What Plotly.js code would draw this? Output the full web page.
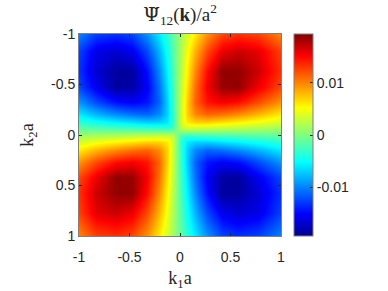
<!DOCTYPE html>
<html>
<head>
<meta charset="utf-8">
<script src="https://cdn.plot.ly/plotly-3.0.1.min.js"></script>
<style>html,body{margin:0;padding:0;background:#fff;}#chart{width:388px;height:291px;}</style>
</head>
<body>
<div id="chart"></div>
<script>
// grid positions (k1 a and k2 a)
const k1 = [-1, -0.83, -0.63, -0.48, -0.33, -0.21, -0.13, -0.07, -0.03, 0.01, 0.07, 0.15, 0.27, 0.42, 0.57, 0.77, 1.0];
const k2 = [-1, -0.83, -0.63, -0.48, -0.33, -0.21, -0.13, -0.07, -0.03, 0.01, 0.07, 0.15, 0.27, 0.42, 0.57, 0.77, 1.0];
// Psi12 / a^2 values, rows follow k2, columns follow k1
const psi = [
 [-0.0100,-0.0126,-0.0133,-0.0124,-0.0094,-0.0060,-0.0035,-0.0014,0,0.0014,0.0035,0.0060,0.0094,0.0124,0.0133,0.0126,0.0100],
 [-0.0126,-0.0160,-0.0168,-0.0157,-0.0123,-0.0081,-0.0047,-0.0019,0,0.0019,0.0047,0.0081,0.0123,0.0157,0.0168,0.0160,0.0126],
 [-0.0133,-0.0168,-0.0188,-0.0188,-0.0147,-0.0098,-0.0057,-0.0023,0,0.0023,0.0057,0.0098,0.0147,0.0188,0.0188,0.0168,0.0133],
 [-0.0124,-0.0157,-0.0188,-0.0185,-0.0154,-0.0108,-0.0064,-0.0027,0,0.0027,0.0064,0.0108,0.0154,0.0185,0.0188,0.0157,0.0124],
 [-0.0094,-0.0123,-0.0147,-0.0154,-0.0144,-0.0113,-0.0071,-0.0030,0,0.0030,0.0071,0.0113,0.0144,0.0154,0.0147,0.0123,0.0094],
 [-0.0060,-0.0081,-0.0098,-0.0108,-0.0113,-0.0098,-0.0070,-0.0032,0,0.0032,0.0070,0.0098,0.0113,0.0108,0.0098,0.0081,0.0060],
 [-0.0035,-0.0047,-0.0057,-0.0064,-0.0071,-0.0070,-0.0061,-0.0034,0,0.0034,0.0061,0.0070,0.0071,0.0064,0.0057,0.0047,0.0035],
 [-0.0014,-0.0019,-0.0023,-0.0027,-0.0030,-0.0032,-0.0034,-0.0026,0,0.0026,0.0034,0.0032,0.0030,0.0027,0.0023,0.0019,0.0014],
 [0,0,0,0,0,0,0,0,0,0,0,0,0,0,0,0,0],
 [0.0014,0.0019,0.0023,0.0027,0.0030,0.0032,0.0034,0.0026,0,-0.0026,-0.0034,-0.0032,-0.0030,-0.0027,-0.0023,-0.0019,-0.0014],
 [0.0035,0.0047,0.0057,0.0064,0.0071,0.0070,0.0061,0.0034,0,-0.0034,-0.0061,-0.0070,-0.0071,-0.0064,-0.0057,-0.0047,-0.0035],
 [0.0060,0.0081,0.0098,0.0108,0.0113,0.0098,0.0070,0.0032,0,-0.0032,-0.0070,-0.0098,-0.0113,-0.0108,-0.0098,-0.0081,-0.0060],
 [0.0094,0.0123,0.0147,0.0154,0.0144,0.0113,0.0071,0.0030,0,-0.0030,-0.0071,-0.0113,-0.0144,-0.0154,-0.0147,-0.0123,-0.0094],
 [0.0124,0.0157,0.0188,0.0185,0.0154,0.0108,0.0064,0.0027,0,-0.0027,-0.0064,-0.0108,-0.0154,-0.0185,-0.0188,-0.0157,-0.0124],
 [0.0133,0.0168,0.0188,0.0188,0.0147,0.0098,0.0057,0.0023,0,-0.0023,-0.0057,-0.0098,-0.0147,-0.0188,-0.0188,-0.0168,-0.0133],
 [0.0126,0.0160,0.0168,0.0157,0.0123,0.0081,0.0047,0.0019,0,-0.0019,-0.0047,-0.0081,-0.0123,-0.0157,-0.0168,-0.0160,-0.0126],
 [0.0100,0.0126,0.0133,0.0124,0.0094,0.0060,0.0035,0.0014,0,-0.0014,-0.0035,-0.0060,-0.0094,-0.0124,-0.0133,-0.0126,-0.0100]
];
const axisTicks = [-1, -0.5, 0, 0.5, 1];
const axisTickText = ['-1', '-0.5', '0', '0.5', '1'];
const cbTicks = [-0.01, 0, 0.01];
const cbTickText = ['-0.01', '0', '0.01'];
const cRange = [-0.0194, 0.0194];

const jet = [
  [0, 'rgb(0,0,143)'], [0.11, 'rgb(0,0,255)'], [0.365, 'rgb(0,255,255)'],
  [0.5, 'rgb(128,255,128)'], [0.635, 'rgb(255,255,0)'], [0.89, 'rgb(255,0,0)'], [1, 'rgb(128,0,0)']
];
const tickFont = {family: 'Liberation Sans, Arial, sans-serif', size: 14, color: '#262626'};
const serif = {family: 'Liberation Serif, Times New Roman, serif', size: 18, color: '#262626'};
const titleFont = {family: 'Liberation Serif, Times New Roman, serif', size: 19, color: '#262626'};

const trace = {
  type: 'heatmap', x: k1, y: k2, z: psi, zsmooth: 'best',
  colorscale: jet, zmin: cRange[0], zmax: cRange[1],
  colorbar: {
    x: 1.064, xanchor: 'left', xref: 'paper', y: 0.5, yanchor: 'middle', len: 1, lenmode: 'fraction',
    thickness: 19, thicknessmode: 'pixels', outlinewidth: 1, outlinecolor: '#7f7f7f',
    tickmode: 'array', tickvals: cbTicks, ticktext: cbTickText,
    ticks: 'inside', ticklen: 3, tickcolor: '#262626', tickfont: tickFont, xpad: 0, ypad: 0
  }
};
const axBase = {
  range: [-1, 1], tickmode: 'array', tickvals: axisTicks, ticktext: axisTickText,
  ticks: 'inside', ticklen: 3, tickcolor: '#262626', showline: true, linecolor: '#7f7f7f', linewidth: 1,
  mirror: 'ticks', showgrid: false, zeroline: false, tickfont: tickFont
};
const layout = {
  width: 388, height: 291,
  margin: {l: 79, r: 107, t: 34, b: 55},
  paper_bgcolor: '#fff', plot_bgcolor: '#fff',
  title: {text: '<span style="font-family:\'DejaVu Serif\'">Ψ̃</span><sub>12</sub>(<b>k</b>)/a<sup>2</sup>', font: titleFont,
          x: 0.5, xref: 'paper', xanchor: 'center', y: 0.95, yanchor: 'middle'},
  xaxis: Object.assign({}, axBase, {ticklabelstandoff: 8, title: {text: 'k<sub>1</sub>a', font: serif, standoff: 8}}),
  yaxis: Object.assign({}, axBase, {range: [1, -1], title: {text: 'k<sub>2</sub>a', font: serif, standoff: 12}})
};
Plotly.newPlot('chart', [trace], layout, {staticPlot: true, displayModeBar: false});
</script>
</body>
</html>
